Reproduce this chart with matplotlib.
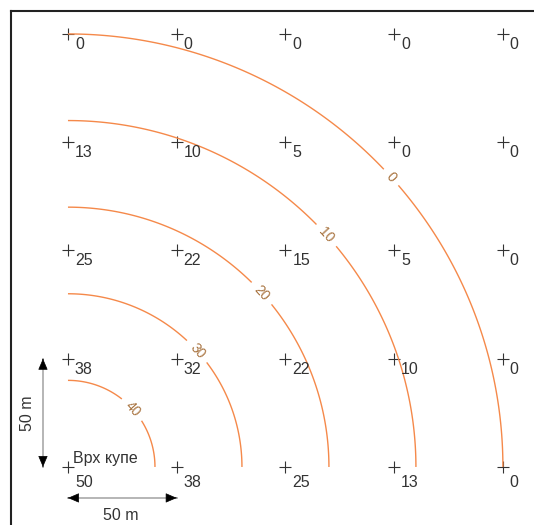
import numpy as np
import matplotlib.pyplot as plt

plt.rcParams['font.family'] = ['Liberation Sans', 'DejaVu Sans']

# измерне тачке (m) и висине у њима
grid_x = [0, 50, 100, 150, 200]
grid_y = [200, 150, 100, 50, 0]
heights = [
    [0, 0, 0, 0, 0],
    [13, 10, 5, 0, 0],
    [25, 22, 15, 5, 0],
    [38, 32, 22, 10, 0],
    [50, 38, 25, 13, 0],
]

# изохипсе: висина и полупречник круга око врха (m)
contour_levels = [40, 30, 20, 10, 0]
contour_radii = [40, 80, 120, 160, 200]

line_color = '#f5894a'
label_color = '#a8733f'
text_color = '#333333'

fig = plt.figure(figsize=(5.34, 5.25), dpi=100)
ax = fig.add_axes([11 / 534, 0, 1 - 11 / 534, 1 - 11 / 525])
ax.set_xlim(-26.2, 214.3)
ax.set_ylim(-26.8, 210.6)
ax.set_xticks([])
ax.set_yticks([])
for side in ['right', 'bottom']:
    ax.spines[side].set_visible(False)
for side in ['left', 'top']:
    ax.spines[side].set_color('#222222')
    ax.spines[side].set_linewidth(1.5)

# тачке са висинама
for i, y in enumerate(grid_y):
    for j, x in enumerate(grid_x):
        ax.plot(x, y, marker='+', color=text_color, markersize=8.5, mew=0.8)
        dy = -11.5 if y == 0 else -7.5
        ax.annotate(str(heights[i][j]), (x, y), xytext=(5, dy),
                    textcoords='offset points', ha='left', va='center',
                    fontsize=11.5, color=text_color)

# изохипсе као кругови око врха
xs = np.linspace(0, 210, 700)
X, Y = np.meshgrid(xs, xs)
R = np.hypot(X, Y)
radii_sorted = sorted(contour_radii)
cs = ax.contour(X, Y, R, levels=radii_sorted, colors=line_color, linewidths=1)
fmt = {r: str(lv) for r, lv in zip(contour_radii, contour_levels)}
ang = np.deg2rad(42)
positions = [(r * np.cos(ang), r * np.sin(ang)) for r in radii_sorted]
ax.clabel(cs, radii_sorted, fmt=fmt, manual=positions, inline=True,
          inline_spacing=7, fontsize=10, colors=label_color)

ax.text(2.3, 2.0, 'Врх купе', fontsize=11.5, color=text_color,
        ha='left', va='baseline')


# размерне стрелице
def dim_arrow(p0, p1):
    ax.plot([p0[0], p1[0]], [p0[1], p1[1]], color='#b0b0b0', lw=1.3)
    d = np.subtract(p1, p0) / np.hypot(*np.subtract(p1, p0))
    for tip, back in [(p1, np.add(p1, -d * 0.5)), (p0, np.add(p0, d * 0.5))]:
        ax.annotate('', xy=tip, xytext=back,
                    arrowprops=dict(arrowstyle='-|>,head_length=0.7,head_width=0.3',
                                    color='black', lw=0.5, shrinkA=0, shrinkB=0))


dim_arrow((-11.5, 0), (-11.5, 50))
dim_arrow((0, -14.3), (50, -14.3))
ax.text(-18.4, 25, '50 m', rotation=90, fontsize=11.5, color=text_color,
        ha='center', va='center')
ax.text(24.4, -22.2, '50 m', fontsize=11.5, color=text_color,
        ha='center', va='center')

fig.savefig('out.png', dpi=100)
